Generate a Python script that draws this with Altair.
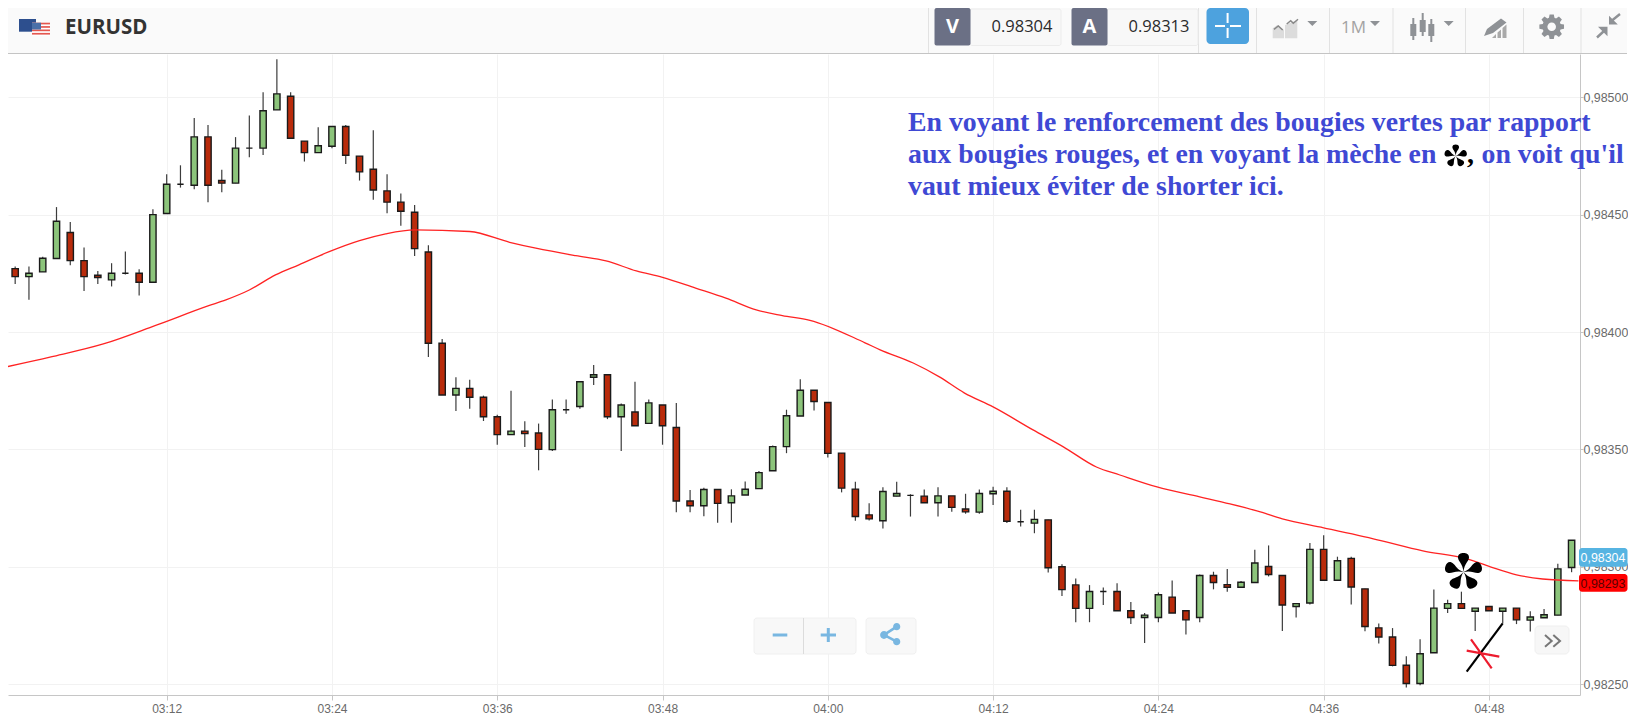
import math
import altair as alt
import pandas as pd

# ---------- data (prices in 1e-5 units) ----------
opens = [98430.4,98427.0,98423.6,98425.6,98431.3,98442.4,98430.4,98424.2,98422.2,98425.0,
         98425.0,98421.2,98450.5,98462.9,98462.5,98483.1,98464.5,98463.4,98478.3,98478.3,
         98494.6,98500.4,98481.3,98476.4,98479.1,98487.5,98474.9,98469.3,98460.1,98455.3,
         98451.0,98434.1,98395.2,98373.2,98376.0,98372.2,98363.9,98356.3,98357.8,98357.0,
         98349.9,98366.9,98368.3,98380.7,98381.8,98363.9,98365.9,98361.1,98368.9,98359.3,
         98328.0,98326.0,98332.9,98327.3,98330.6,98333.3,98340.9,98351.2,98364.2,98375.2,
         98370.0,98348.4,98333.1,98322.1,98319.6,98330.1,98330.4,98330.1,98327.3,98330.2,
         98324.6,98323.3,98331.1,98332.2,98319.2,98318.6,98320.0,98300.0,98292.3,98282.3,
         98289.5,98289.5,98281.3,98278.4,98278.4,98287.1,98281.3,98278.4,98296.3,98292.4,
         98291.3,98293.3,98300.1,98296.3,98283.1,98284.6,98307.4,98294.3,98303.6,98290.6,
         98274.0,98270.1,98258.1,98250.3,98263.4,98282.3,98284.3,98281.1,98283.1,98281.1,
         98282.4,98277.3,98278.3,98279.4,98299.7]
closes = [98427.6,98423.6,98425.0,98431.4,98447.2,98430.4,98423.6,98423.2,98425.0,98425.0,
          98421.2,98450.0,98462.9,98462.9,98483.1,98462.5,98463.4,98478.3,98478.3,98494.2,
          98501.4,98482.5,98476.4,98479.3,98487.5,98475.3,98468.2,98460.5,98455.3,98451.4,
          98435.5,98395.2,98373.2,98376.0,98372.2,98363.9,98356.3,98357.8,98356.7,98350.0,
          98366.9,98366.9,98378.8,98381.8,98363.9,98368.9,98360.1,98369.8,98360.1,98328.0,
          98326.0,98332.9,98327.0,98330.2,98333.0,98340.1,98351.2,98364.3,98375.2,98370.4,
          98348.3,98333.5,98321.4,98320.4,98332.1,98331.2,98330.4,98327.3,98330.2,98325.3,
          98323.4,98331.2,98332.2,98319.4,98319.2,98320.2,98299.6,98290.3,98282.3,98289.5,
          98289.5,98281.3,98278.4,98279.4,98288.1,98280.3,98277.4,98296.3,98293.3,98291.3,
          98293.4,98301.6,98296.7,98283.7,98284.3,98307.4,98294.3,98302.6,98291.4,98274.6,
          98270.1,98258.0,98250.3,98263.0,98282.4,98284.3,98282.3,98282.4,98281.3,98282.4,
          98277.4,98278.6,98279.6,98299.1,98311.3]
highs = [98436.0,98427.9,98427.9,98432.1,98453.2,98446.9,98436.0,98426.0,98429.3,98434.3,
         98426.7,98452.3,98467.2,98471.0,98491.1,98488.2,98469.1,98483.0,98492.2,98502.1,
         98516.2,98502.1,98481.3,98487.2,98487.5,98488.2,98474.9,98485.9,98467.2,98459.0,
         98454.1,98436.9,98397.0,98380.7,98379.7,98372.9,98364.8,98375.0,98362.0,98361.0,
         98371.2,98371.2,98378.8,98385.9,98381.8,98369.6,98378.8,98371.2,98368.9,98369.8,
         98332.7,98333.7,98332.9,98333.0,98336.3,98340.8,98351.7,98366.9,98379.9,98375.2,
         98370.0,98348.4,98336.2,98327.1,98333.9,98336.2,98330.9,98332.9,98333.9,98330.2,
         98331.1,98332.9,98334.1,98333.9,98324.3,98324.3,98320.0,98301.1,98295.0,98292.2,
         98291.2,98293.0,98285.0,98280.3,98289.1,98294.2,98281.3,98296.7,98297.9,98299.1,
         98294.0,98307.3,98309.1,98296.3,98284.3,98310.1,98313.4,98304.3,98304.3,98290.6,
         98275.9,98273.9,98261.9,98269.1,98290.3,98286.0,98289.4,98282.4,98283.1,98282.4,
         98282.4,98281.1,98282.0,98301.3,98311.3]
lows = [98422.2,98420.4,98413.7,98425.6,98431.3,98428.4,98417.5,98420.4,98419.4,98424.5,
        98415.5,98421.2,98450.5,98461.5,98460.8,98455.3,98459.5,98463.4,98474.4,98475.4,
        98494.6,98482.5,98472.6,98476.4,98478.3,98471.6,98464.5,98456.3,98450.6,98445.3,
        98432.4,98389.4,98373.2,98366.4,98367.3,98362.1,98352.0,98356.3,98351.0,98341.1,
        98349.3,98365.2,98367.3,98377.4,98362.9,98349.3,98360.1,98361.1,98352.0,98323.2,
        98323.2,98321.5,98318.8,98318.8,98330.6,98333.3,98340.9,98348.4,98364.2,98366.6,
        98346.6,98331.7,98319.6,98319.7,98316.3,98330.1,98321.4,98327.3,98321.4,98323.4,
        98322.6,98322.6,98326.3,98318.7,98317.2,98314.3,98297.6,98287.6,98276.4,98276.4,
        98283.7,98281.3,98275.6,98267.5,98276.4,98280.3,98271.2,98276.4,98290.4,98289.4,
        98291.3,98293.3,98295.9,98272.7,98278.4,98283.9,98294.3,98294.3,98283.9,98272.6,
        98267.3,98257.6,98248.6,98249.6,98263.4,98280.3,98282.3,98272.7,98281.3,98276.0,
        98275.6,98272.4,98278.3,98279.4,98297.7]
minutes = list(range(len(opens)))

ema_minutes = [0,3.6,7.4,11.2,15,16.3,18,19.9,21.6,23.8,26,27.9,30,34,36.9,38.8,41.7,43.9,46.1,48,
               50.4,52.6,54.8,56.7,58.7,62.7,63.8,66.2,68.1,69.9,72,74.9,77.1,79.5,81.2,83.9,87,
               89.2,91.4,93,96,99.9,103.2,106.4,108.1,110,111.9,114.5]
ema_values = [98384.7,98389.4,98394.9,98402.8,98411.1,98413.7,98417.9,98424.3,98428.6,98434.2,98438.9,
              98441.8,98443.5,98442.8,98438.2,98435.7,98432.5,98430.3,98426.0,98423.3,98418.7,98414.4,
              98409.4,98407.0,98405.0,98395.4,98392.4,98386.8,98380.9,98374.1,98368.1,98358.3,98351.1,
              98342.5,98339.1,98334.0,98329.8,98326.8,98323.4,98320.4,98316.6,98311.5,98306.8,98303.4,
              98300.0,98296.6,98294.8,98294.0]

x_tick_minutes = [12,24,36,48,60,72,84,96,108]
x_tick_labels = ["03:12","03:24","03:36","03:48","04:00","04:12","04:24","04:36","04:48"]
y_ticks = [0.9825,0.983,0.9835,0.984,0.9845,0.985]

symbol = "EURUSD"
bid_value, ask_value = "0.98304", "0.98313"
tag_last, tag_ema = "0,98304", "0,98293"
note_1 = "En voyant le renforcement des bougies vertes par rapport"
note_2a = "aux bougies rouges, et en voyant la mèche en"
note_2b = "on voit qu'il"
note_3 = "vaut mieux éviter de shorter ici."

candles = pd.DataFrame({"t":minutes,"open":[v/1e5 for v in opens],"close":[v/1e5 for v in closes],
                        "high":[v/1e5 for v in highs],"low":[v/1e5 for v in lows]})
ema = pd.DataFrame({"t":ema_minutes,"v":[v/1e5 for v in ema_values]})

# ---------- scales ----------
OX, OY = 8, 54
PW, PH = 1572, 641
xs = alt.Scale(domain=[0.479,114.61], nice=False, zero=False, padding=0)
ys = alt.Scale(domain=[0.982454,0.985184], nice=False, zero=False)
GRID, AX, LBL = "#f2f2f2", "#c6c6c6", "#6a6a6a"
x_expr = "%s[indexof(%s, datum.value)]" % (x_tick_labels, x_tick_minutes)
x_axis = alt.Axis(values=x_tick_minutes, labelExpr=x_expr, title=None, grid=True, gridColor=GRID,
                  domainColor=AX, tickColor=AX, tickSize=5, labelColor=LBL, labelFont="Liberation Sans",
                  labelFontSize=12, labelPadding=3)
y_axis = alt.Axis(values=y_ticks, orient="right", labelExpr="replace(format(datum.value,'.5f'),'.',',')",
                  title=None, grid=True, gridColor=GRID, domainColor=AX, tickColor=AX, tickSize=3,
                  labelColor=LBL, labelFont="Liberation Sans", labelFontSize=12.4, labelPadding=0)
X = alt.X("t:Q", scale=xs, axis=x_axis)
RED, GREEN = "#B92B0B", "#8CC47B"

wicks = alt.Chart(candles).mark_rule(color="#3c3c3c", strokeWidth=1.2, clip=True).encode(
    x=X, y=alt.Y("low:Q", scale=ys, axis=y_axis), y2="high:Q")
bodies = alt.Chart(candles).mark_bar(size=6.3, stroke="#1a1a1a", strokeWidth=1.4, clip=True).encode(
    x=X, y=alt.Y("open:Q", scale=ys, axis=y_axis), y2="close:Q",
    fill=alt.condition("datum.close >= datum.open", alt.value(GREEN), alt.value(RED)))
ema_line = alt.Chart(ema).mark_line(color="#FF2323", strokeWidth=1.3, clip=True, interpolate="monotone").encode(
    x=X, y=alt.Y("v:Q", scale=ys, axis=y_axis))

# ---------- page furniture, in page pixels ----------
dummy = pd.DataFrame({"k":[0]})
def rect(x1,y1,x2,y2,fill,radius=0,stroke=None):
    kw = {"fill":fill,"cornerRadius":radius}
    if stroke: kw.update(stroke=stroke,strokeWidth=1)
    return alt.Chart(dummy).mark_rect(**kw).encode(x=alt.value(x1-OX),x2=alt.value(x2-OX),
                                                   y=alt.value(y1-OY),y2=alt.value(y2-OY))
def txt(s,x,y,size,color,font="Open Sans",weight="normal",align="left",baseline="alphabetic"):
    return alt.Chart(dummy).mark_text(text=s,font=font,fontSize=size,fontWeight=weight,color=color,
                                      align=align,baseline=baseline).encode(x=alt.value(x-OX),y=alt.value(y-OY))
def poly(pts,close=True):
    return "M"+" L".join("%.2f,%.2f"%(a-OX,b-OY) for a,b in pts)+(" Z" if close else "")
def fill_shape(d,fill):
    return alt.Chart(dummy).mark_point(shape=d,size=4,filled=True,fill=fill,opacity=1,strokeWidth=0).encode(
        x=alt.value(0),y=alt.value(0))
def line_shape(d,stroke,w=2):
    return alt.Chart(dummy).mark_point(shape=d,size=4,filled=False,stroke=stroke,strokeWidth=w,opacity=1).encode(
        x=alt.value(0),y=alt.value(0))
def circ(cx,cy,r):
    cx-=OX; cy-=OY
    return "M%.2f,%.2f a%.2f,%.2f 0 1,0 %.2f,0 a%.2f,%.2f 0 1,0 %.2f,0 Z"%(cx-r,cy,r,r,2*r,r,r,-2*r)
def flower(cx,cy,R):
    out=[]
    ctrl=[(0.45,0.03),(0.55,0.29),(0.78,0.29),(0.93,0.29),(1,0.15),(1,0),(1,-0.15),(0.93,-0.29),(0.78,-0.29),(0.55,-0.29),(0.45,-0.03),(0,0)]
    for i in range(5):
        a=math.radians(-90+72*i); c,s=math.cos(a),math.sin(a)
        pts=[(cx-OX+R*(u*c-v*s),cy-OY+R*(u*s+v*c)) for u,v in ctrl]
        seg="M%.2f,%.2f"%(cx-OX,cy-OY)
        for j in range(0,12,3):
            seg+=" C"+" ".join("%.2f,%.2f"%p for p in pts[j:j+3])
        out.append(seg+" Z")
    return " ".join(out)
def caret(x,y=23.5):
    return poly([(x-5,y-2.5),(x+5,y-2.5),(x,y+2.5)])
def gear(cx,cy,R,r):
    pts=[]
    for i in range(8):
        a=2*math.pi*i/8-math.pi/2
        for da,rad in ((-0.30,r),(-0.17,R),(0.17,R),(0.30,r)):
            pts.append((cx+rad*math.cos(a+da),cy+rad*math.sin(a+da)))
    return poly(pts)

ICON, ICON_L = "#8f9296", "#dcdcdc"
furn = []
# toolbar
TOP = OY-46
RIGHT = 1627
furn.append(rect(OX,TOP,RIGHT,53,"#fafafa"))
furn.append(rect(OX,53,RIGHT,54,"#c4c4c4"))
for sx in [928,1198,1256,1329,1392.5,1465,1523,1580.5]:
    furn.append(rect(sx,TOP,sx+1,53,"#e2e2e2"))
# flags
furn.append(rect(19,19,36,31.7,"#2D4F8E"))
furn.append(rect(32,22.7,50,35.7,"#ffffff"))
for k in range(4):
    furn.append(rect(32,22.7+k*3.4,50,24.4+k*3.4,"#E4574F"))
furn.append(rect(32,22.7,41,29.5,"#4A6FA8"))
furn.append(txt(symbol,65,33.5,20.5,"#333333",weight="bold"))
# bid / ask
furn.append(rect(970,TOP+1,1061,45.5,"#f8f8f8",2,"#ececec"))
furn.append(rect(1107,TOP+1,1198,45.5,"#f8f8f8",2,"#ececec"))
furn.append(rect(934.5,TOP,970.5,45.5,"#6B7085",2))
furn.append(rect(1071.5,TOP,1107.5,45.5,"#6B7085",2))
furn.append(txt("V",952.5,33,20,"#ffffff",weight="bold",align="center"))
furn.append(txt("A",1089.5,33,20,"#ffffff",weight="bold",align="center"))
furn.append(txt(bid_value,1022,32,16.5,"#2b2b2b",align="center"))
furn.append(txt(ask_value,1159,32,16.5,"#2b2b2b",align="center"))
furn.append(rect(1206.5,8,1249,44,"#4DA2DE",4))
furn.append(line_shape(poly([(1215,26),(1225,26)],False)+" "+poly([(1230,26),(1241,26)],False)+" "+
                       poly([(1227.6,13),(1227.6,23)],False)+" "+poly([(1227.6,28),(1227.6,38)],False),"#ffffff",2))
# chart-type icon
furn.append(fill_shape(poly([(1272.7,38.3),(1272.7,28.3),(1277.3,25),(1284,30),(1284,38.3)])+" "+
                       poly([(1285,38.3),(1285,25),(1297.3,20),(1297.3,38.3)]),ICON_L))
furn.append(line_shape(poly([(1274,29.3),(1278.3,26),(1282.7,30)],False)+" "+
                       poly([(1286.7,24),(1290.7,20.7),(1293.3,23.3),(1298,19.3)],False),"#888888",1.5))
furn.append(fill_shape(caret(1312.3)+" "+caret(1375)+" "+caret(1448.7),ICON))
furn.append(txt("1M",1353.5,33,17,"#a3a3a3",align="center"))
# candle icon
candle_icon = ""
for cx,w1,w2,b1,b2 in [(1413.3,18,40,24,36),(1422.7,13,36,20,32),(1431.3,19,42,24,36)]:
    candle_icon += poly([(cx-1,w1),(cx+1,w1),(cx+1,w2),(cx-1,w2)])+" "+poly([(cx-3,b1),(cx+3,b1),(cx+3,b2),(cx-3,b2)])+" "
furn.append(fill_shape(candle_icon,ICON))
# pencil icon
furn.append(fill_shape(poly([(1484,36),(1487,29),(1501,18.5),(1506.5,22.5),(1493,33)]),ICON))
furn.append(fill_shape(poly([(1492,38),(1496,34),(1496,38)])+" "+poly([(1497.5,38),(1497.5,32.5),(1501,29.5),(1501,38)])+" "+
                       poly([(1502.5,38),(1502.5,28),(1506.5,24.5),(1506.5,38)]),"#a9a9a9"))
# gear
furn.append(fill_shape(gear(1551.7,26.7,12.5,9.3),ICON))
furn.append(fill_shape(circ(1551.7,26.7,4.3),"#fafafa"))
# collapse arrows
furn.append(fill_shape(poly([(1609,15.7),(1609,24.5),(1617.8,24.5)])+" "+poly([(1607.5,26.7),(1598,26.7),(1607.5,36.2)]),ICON))
furn.append(line_shape(poly([(1612,20.5),(1620,14)],False)+" "+poly([(1604,31),(1597,37.5)],False),ICON,2.4))

furn_over = []
# annotation
BLUE = "#3F49D4"
SER = "Liberation Serif"
NOTE = 27.8
furn_over.append(txt(note_1,908,130.7,NOTE,BLUE,SER,"bold"))
furn_over.append(txt(note_2a,908,162.7,NOTE,BLUE,SER,"bold"))
furn_over.append(fill_shape(flower(1455.7,156,11.5),"#000000"))
furn_over.append(txt(",",1467,162.7,NOTE,"#000000",SER,"bold"))
furn_over.append(txt(note_2b,1481.5,162.7,NOTE,BLUE,SER,"bold"))
furn_over.append(txt(note_3,908,195,NOTE,BLUE,SER,"bold"))
# marks on the wick
furn_over.append(fill_shape(flower(1463.5,572,19),"#000000"))
furn_over.append(line_shape(poly([(1502.7,623.3),(1466.7,671.7)],False),"#000000",2.2))
furn_over.append(line_shape(poly([(1471,639.3),(1491.7,668.3)],False)+" "+poly([(1466.7,650.7),(1499.3,656.7)],False),"#ED1C2E",2.2))
# price tags
furn_over.append(rect(1579,548,1627.5,566.7,"#56B4E2",3))
furn_over.append(txt(tag_last,1603,562.3,12.4,"#ffffff","Liberation Sans",align="center"))
furn_over.append(rect(1579,574,1627.5,591.7,"#FF0000",3))
furn_over.append(txt(tag_ema,1603,587.7,12.4,"#5a0000","Liberation Sans",align="center"))
# zoom + share buttons
furn_over.append(rect(754,618,856,654,"#f8f8f8",3,"#f0f0f0"))
furn_over.append(rect(803,618,804,654,"#dcdcdc"))
furn_over.append(rect(866,618,916,654,"#f8f8f8",3,"#f0f0f0"))
BTN = "#79B7E1"
furn_over.append(fill_shape(poly([(772.7,633.5),(787.3,633.5),(787.3,636.5),(772.7,636.5)])+" "+
                            poly([(820.7,633.5),(836,633.5),(836,636.5),(820.7,636.5)])+" "+
                            poly([(826.8,628),(829.8,628),(829.8,642),(826.8,642)]),BTN))
furn_over.append(line_shape(poly([(896.7,626.7),(884,635),(896.7,641.7)],False),BTN,2.6))
furn_over.append(fill_shape(circ(896.7,626.7,3.6)+" "+circ(884,635,3.9)+" "+circ(896.7,641.7,3.6),BTN))
# expand button
furn_over.append(rect(1535,626,1569,654,"#f7f7f7",4,"#efefef"))
furn_over.append(line_shape(poly([(1545,635),(1551.7,641),(1545,646.7)],False)+" "+
                            poly([(1553.3,635),(1560,641),(1553.3,646.7)],False),"#777777",2))

chart = alt.layer(wicks,bodies,ema_line,*furn,*furn_over).properties(
    width=PW,height=PH,padding=0,background="#ffffff",
).configure_view(strokeWidth=0)

chart.save("out.html", embed_options={"renderer": "svg", "actions": False})
